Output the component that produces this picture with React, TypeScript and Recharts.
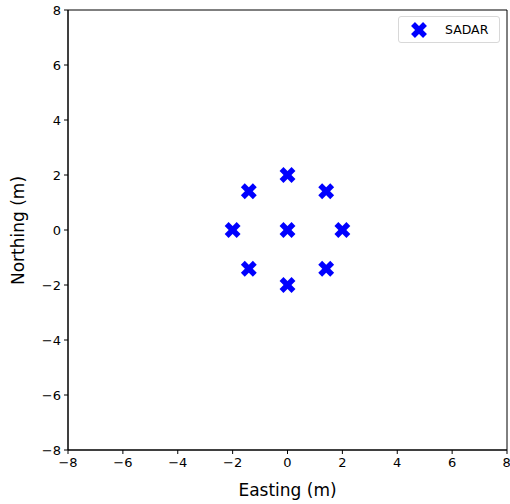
import { ReferenceArea, Scatter, ScatterChart, XAxis, YAxis } from "recharts";

const easting = [0, 0, 0, 2, -2, 1.41, -1.41, 1.41, -1.41];
const northing = [0, 2, -2, 0, 0, 1.41, 1.41, -1.41, -1.41];
const ticks = [-8, -6, -4, -2, 0, 2, 4, 6, 8];
const seriesName = "SADAR";

const points = easting.map((x, i) => ({ x, y: northing[i] }));

const fmt = (v: number) => (v < 0 ? `\u2212${Math.abs(v)}` : `${v}`);

function Cross(props: any) {
  const { cx, cy } = props;
  const s = 6;
  return (
    <g stroke="#0000ff" strokeWidth={5.5}>
      <line x1={cx - s} y1={cy - s} x2={cx + s} y2={cy + s} />
      <line x1={cx - s} y1={cy + s} x2={cx + s} y2={cy - s} />
    </g>
  );
}

function LegendBox() {
  return (
    <div
      style={{
        position: "absolute",
        left: 398,
        top: 16,
        border: "1px solid #d8d8d8",
        borderRadius: 3,
        background: "#fff",
        width: 102,
        height: 27,
        boxSizing: "border-box",
        display: "flex",
        alignItems: "center",
        fontFamily: "DejaVu Sans",
        fontSize: 12.5,
        color: "#000",
      }}
    >
      <svg width={45} height={25}>
        <Cross cx={20} cy={13} />
      </svg>
      <span style={{ marginLeft: 1 }}>{seriesName}</span>
    </div>
  );
}

export default function App() {
  const tickStyle = { fontFamily: "DejaVu Sans", fontSize: 13, fill: "#000" };
  const labelStyle = { fontFamily: "DejaVu Sans", fontSize: 17, fill: "#000" };
  return (
    <div style={{ position: "absolute", left: 0, top: 0, width: 510, height: 504, background: "#fff" }}>
      <ScatterChart width={510} height={504} margin={{ top: 10, right: 3, bottom: 0, left: 0 }}>
        <XAxis
          type="number"
          dataKey="x"
          domain={[-8, 8]}
          ticks={ticks}
          tickFormatter={fmt}
          height={54}
          tick={tickStyle}
          tickSize={4}
          tickMargin={4}
          stroke="#000"
          allowDataOverflow
          label={{ value: "Easting (m)", position: "insideBottom", offset: 8, style: labelStyle }}
        />
        <YAxis
          type="number"
          dataKey="y"
          domain={[-8, 8]}
          ticks={ticks}
          tickFormatter={fmt}
          width={68}
          tick={tickStyle}
          tickSize={4}
          tickMargin={3}
          stroke="#000"
          allowDataOverflow
          label={{ value: "Northing (m)", angle: -90, position: "insideLeft", offset: 18, dy: 55, style: labelStyle }}
        />
        <ReferenceArea x1={-8} x2={8} y1={-8} y2={8} fill="none" stroke="#000" strokeWidth={1} ifOverflow="visible" />
        <Scatter name={seriesName} data={points} shape={Cross} isAnimationActive={false} />
      </ScatterChart>
      <LegendBox />
    </div>
  );
}
